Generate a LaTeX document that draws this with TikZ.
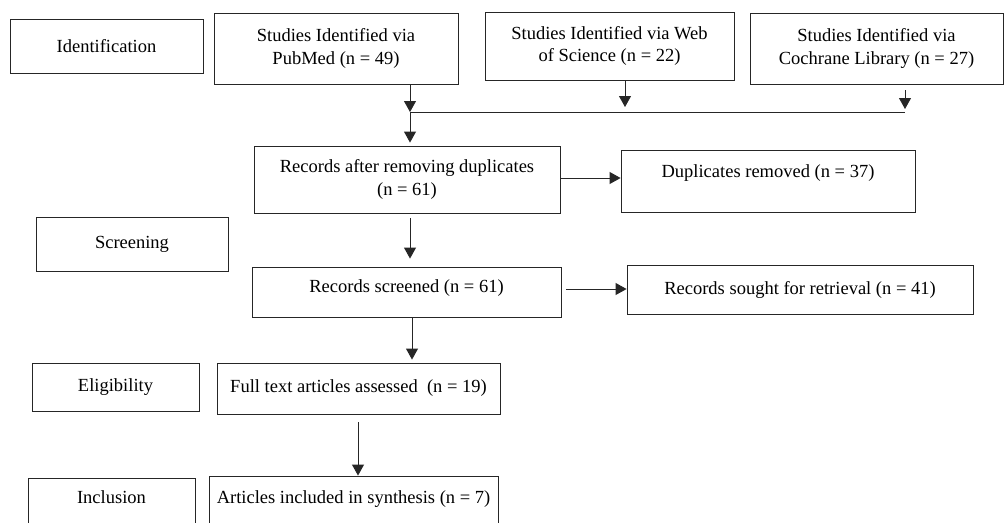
\documentclass[tikz,border=0pt]{standalone}
\usepackage{fontspec}
\setmainfont{Liberation Serif}
\usetikzlibrary{arrows.meta}

\begin{document}
\begin{tikzpicture}[
  x=1pt, y=-1pt,
  box/.style={draw=black!85, line width=0.9pt, fill=white, inner sep=2pt, align=center,
    font=\fontsize{18.5}{22.5}\selectfont},
  arr/.style={-{Triangle[length=11pt,width=12pt]}, line width=0.9pt, draw=black!85, fill=black!85}
]
  \clip (0,0) rectangle (1008,522);
  \fill[white] (0,0) rectangle (1008,522);

  % stage labels
  \node[box, minimum width=193pt, minimum height=54pt] (ident) at (106.5,46) {Identification};
  \node[box, minimum width=192pt, minimum height=54pt] (screen) at (132,244) {Screening};
  \node[box, minimum width=167pt, minimum height=48pt] (elig) at (115.5,387) {Eligibility};
  \node[box, minimum width=167pt, minimum height=50pt, text depth=12pt] (incl) at (111.5,503) {Inclusion};

  % sources
  \node[box, minimum width=244pt, minimum height=71pt] (pubmed) at (336,48.5)
    {Studies Identified via\\PubMed (n = 49)};
  \node[box, minimum width=249pt, minimum height=68pt] (wos) at (609.5,46)
    {Studies Identified via Web\\of Science (n = 22)};
  \node[box, minimum width=253pt, minimum height=71pt] (cochrane) at (876.5,48.5)
    {Studies Identified via\\Cochrane Library (n = 27)};

  % main flow
  \node[box, minimum width=306pt, minimum height=67pt] (dedup) at (407,179.5)
    {Records after removing duplicates\\(n = 61)};
  \node[box, minimum width=294pt, minimum height=62pt, text depth=20pt] (removed) at (768,181)
    {Duplicates removed (n = 37)};
  \node[box, minimum width=309pt, minimum height=50pt, text depth=12pt] (screened) at (406.5,292)
    {Records screened (n = 61)};
  \node[box, minimum width=346pt, minimum height=49pt] (sought) at (800,289.5)
    {Records sought for retrieval (n = 41)};
  \node[box, minimum width=283pt, minimum height=51pt] (fulltext) at (358.5,388.5)
    {Full text articles assessed~ (n = 19)};
  \node[box, minimum width=289pt, minimum height=54pt, text depth=12pt] (included) at (353.5,503)
    {Articles included in synthesis (n = 7)};

  % merge line
  \coordinate (jl) at (410,112);
  \coordinate (jr) at (905,112);
  \coordinate (jw) at (625,107);
  \draw[line width=0.9pt, black!85] (jl) -- (jr);
  \draw[arr] (pubmed.south -| jl) -- (jl);
  \draw[arr] (wos.south -| jw) -- (jw);
  \draw[arr, shorten <=6pt] (cochrane.south -| jr) -- ([yshift=3pt]jr);
  \draw[arr, shorten >=3pt] (jl) -- (dedup.north -| jl);

  \draw[arr] (dedup.east |- 0,178) -- (removed.west |- 0,178);
  \draw[arr, shorten <=5pt, shorten >=8pt] (dedup.south -| jl) -- (screened.north -| jl);
  \draw[arr, shorten <=5pt] (screened.east |- 0,289) -- (sought.west |- 0,289);
  \draw[arr, shorten >=3pt] (screened.south -| 412,0) -- (fulltext.north -| 412,0);
  \draw[arr, shorten <=8pt] (fulltext.south -| 358,0) -- (included.north -| 358,0);
\end{tikzpicture}
\end{document}
